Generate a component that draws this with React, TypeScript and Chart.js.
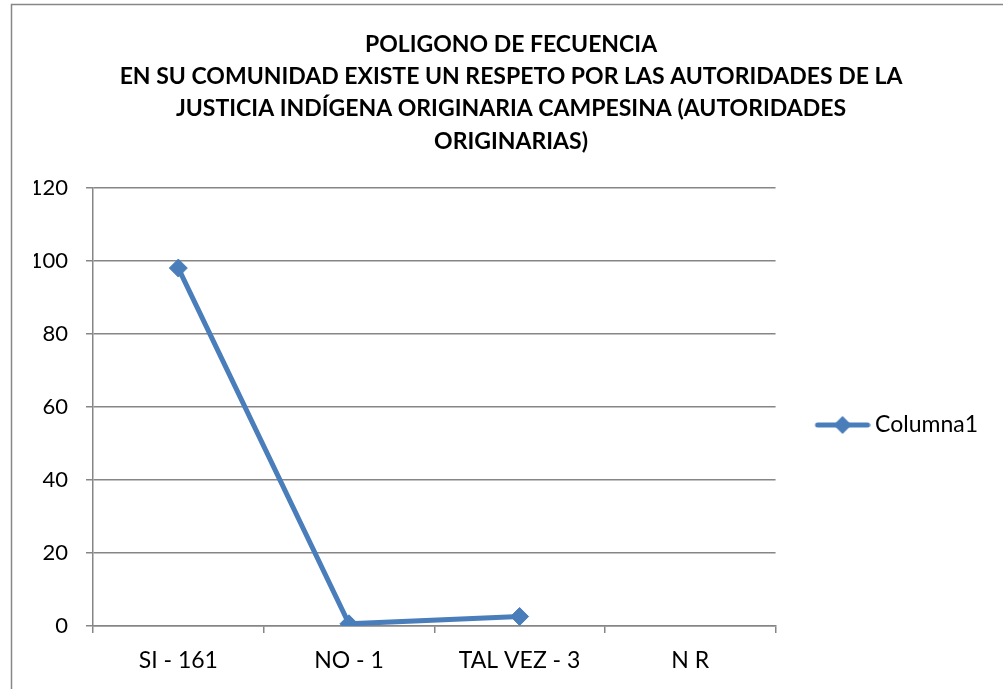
import React, { useEffect, useRef } from "react";
import { Chart, registerables } from "chart.js";

Chart.register(...registerables);

const categories = ["SI - 161", "NO - 1", "TAL VEZ - 3", "N R"];
const seriesName = "Columna1";
const seriesValues: (number | null)[] = [98, 0.6, 2.6, null];
const titleLines = [
  "POLIGONO DE FECUENCIA",
  "EN SU COMUNIDAD EXISTE UN RESPETO POR LAS AUTORIDADES DE LA",
  "JUSTICIA INDÍGENA ORIGINARIA CAMPESINA (AUTORIDADES",
  "ORIGINARIAS)",
];
const yMin = 0;
const yMax = 120;
const yStep = 20;

const BLUE = "#4a7ebb";
const GRID = "#868686";
const FONT = "Lato, 'Open Sans', sans-serif";

function makeLegendIcon(): HTMLCanvasElement {
  const c = document.createElement("canvas");
  c.width = 62;
  c.height = 20;
  const ctx = c.getContext("2d")!;
  ctx.strokeStyle = BLUE;
  ctx.lineWidth = 5;
  ctx.lineCap = "round";
  ctx.beginPath();
  ctx.moveTo(9, 10);
  ctx.lineTo(59, 10);
  ctx.stroke();
  ctx.fillStyle = BLUE;
  ctx.beginPath();
  ctx.moveTo(34, 1);
  ctx.lineTo(43, 10);
  ctx.lineTo(34, 19);
  ctx.lineTo(25, 10);
  ctx.closePath();
  ctx.fill();
  return c;
}

const borderPlugin = {
  id: "outerBorder",
  beforeDraw(chart: any) {
    const ctx = chart.ctx;
    ctx.save();
    ctx.fillStyle = "#ffffff";
    ctx.fillRect(0, 0, chart.width, chart.height);
    ctx.strokeStyle = GRID;
    ctx.lineWidth = 1.5;
    ctx.strokeRect(11.5, 4.5, 1200, 900);
    ctx.restore();
  },
};

const legendCenterPlugin = {
  id: "legendCenter",
  afterLayout(chart: any) {
    const lg = chart.legend;
    if (!lg) return;
    const h = lg.bottom - lg.top;
    const c = 425;
    lg.top = c - h / 2;
    lg.bottom = c + h / 2;
  },
};

export default function App() {
  const ref = useRef<HTMLCanvasElement | null>(null);
  useEffect(() => {
    document.body.style.margin = "0";
    const icon = makeLegendIcon();
    const chart = new Chart(ref.current!, {
      type: "line",
      data: {
        labels: categories,
        datasets: [
          {
            label: seriesName,
            data: seriesValues,
            borderColor: BLUE,
            backgroundColor: BLUE,
            borderWidth: 5,
            pointStyle: "rectRot",
            pointRadius: 9,
            pointBackgroundColor: BLUE,
            pointBorderColor: BLUE,
            pointBorderWidth: 1,
            tension: 0,
            spanGaps: false,
          },
        ],
      },
      options: {
        animation: false,
        responsive: false,
        maintainAspectRatio: false,
        layout: { padding: { left: 34, right: 15, top: 0, bottom: 0 } },
        plugins: {
          title: {
            display: true,
            text: titleLines,
            color: "#000",
            font: { family: FONT, size: 23, weight: "bold", lineHeight: 1.41 },
            padding: { top: 28, bottom: 30 },
          },
          legend: {
            display: true,
            position: "right",
            labels: {
              usePointStyle: true,
              pointStyle: icon as any,
              pointStyleWidth: 48,
              color: "#000",
              font: { family: FONT, size: 23 },
              padding: 40,
              generateLabels: () => [
                {
                  text: seriesName,
                  pointStyle: icon,
                  fillStyle: BLUE,
                  strokeStyle: BLUE,
                  lineWidth: 0,
                  hidden: false,
                  datasetIndex: 0,
                  fontColor: "#000",
                },
              ],
            },
          },
          tooltip: { enabled: false },
        },
        scales: {
          x: {
            type: "category",
            offset: true,
            afterFit: (s: any) => {
              s.height = 63;
            },
            grid: {
              offset: true,
              drawOnChartArea: false,
              drawTicks: true,
              tickLength: 7,
              color: GRID,
              lineWidth: 1.5,
            },
            border: { display: true, color: GRID, width: 1.5 },
            ticks: {
              color: "#000",
              font: { family: FONT, size: 23 },
              padding: 14,
              maxRotation: 0,
            },
          },
          y: {
            min: yMin,
            max: yMax,
            afterFit: (s: any) => {
              s.width = 59;
            },
            ticks: {
              stepSize: yStep,
              color: "#000",
              font: { family: FONT, size: 22 },
              padding: 18,
            },
            grid: {
              color: GRID,
              lineWidth: 1.5,
              tickLength: 7,
              drawTicks: true,
            },
            border: { display: true, color: GRID, width: 1.5 },
          },
        },
      },
      plugins: [borderPlugin, legendCenterPlugin],
    } as any);
    return () => chart.destroy();
  }, []);
  return (
    <div style={{ position: "absolute", left: 0, top: 0, width: 1003, height: 689 }}>
      <canvas ref={ref} width={1003} height={689} style={{ display: "block" }} />
    </div>
  );
}
